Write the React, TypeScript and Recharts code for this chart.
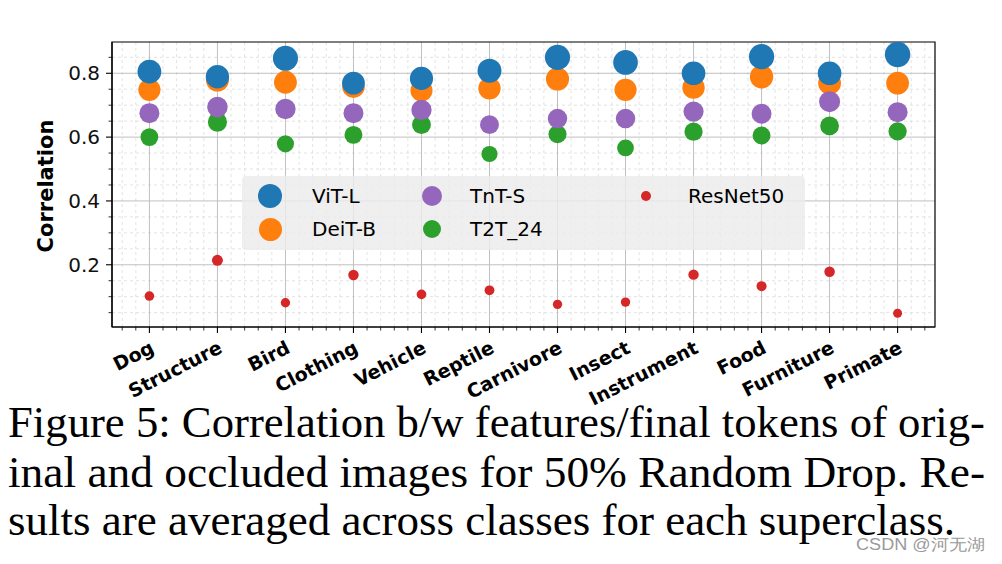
import React from 'react';
import { ScatterChart, Scatter, XAxis, YAxis, CartesianGrid, Legend, ReferenceArea } from 'recharts';

const categories = ['Dog', 'Structure', 'Bird', 'Clothing', 'Vehicle', 'Reptile', 'Carnivore', 'Insect', 'Instrument', 'Food', 'Furniture', 'Primate'];

const vitL = [0.805, 0.789, 0.847, 0.769, 0.784, 0.808, 0.85, 0.834, 0.8, 0.852, 0.8, 0.859];
const deitB = [0.748, 0.779, 0.772, 0.758, 0.746, 0.753, 0.782, 0.748, 0.755, 0.789, 0.769, 0.769];
const tntS = [0.675, 0.694, 0.688, 0.675, 0.685, 0.639, 0.658, 0.658, 0.68, 0.673, 0.711, 0.678];
const t2t24 = [0.6, 0.647, 0.579, 0.607, 0.639, 0.547, 0.609, 0.566, 0.617, 0.605, 0.635, 0.618];
const resnet50 = [0.102, 0.214, 0.081, 0.168, 0.107, 0.12, 0.076, 0.083, 0.169, 0.133, 0.178, 0.048];

const yMajorTicks = [0.2, 0.4, 0.6, 0.8];
const yTickLabels = ['0.2', '0.4', '0.6', '0.8'];
const yMinorTicks = [0.05, 0.1, 0.15, 0.25, 0.3, 0.35, 0.45, 0.5, 0.55, 0.65, 0.7, 0.75, 0.85];

const xMajorTicks = categories.map((_, i) => i);
// minor ticks every 0.2 between the categories
const xMinorTicks: number[] = [];
for (let k = -2; k <= 57; k++) {
  if (k % 5 !== 0) xMinorTicks.push(Math.round(k * 2) / 10);
}

const xDomain = [-0.55, 11.55];
const yDomain = [0.005, 0.898];

const captionLines = [
  'Figure 5: Correlation b/w features/final tokens of orig-',
  'inal and occluded images for 50% Random Drop. Re-',
  'sults are averaged across classes for each superclass.',
];

const toPoints = (vals: number[]) => vals.map((v, i) => ({ x: i, y: v }));

const COLORS = {
  vit: '#1f77b4',
  deit: '#ff7f0e',
  tnt: '#9467bd',
  t2t: '#2ca02c',
  res: '#d62728',
};

const bigR = (v: number) => 14.8 * v;
const smallR = (v: number) => 4.2 + 6 * v;

const dot = (color: string, rOf: (v: number) => number) => (props: any) => {
  if (props.cx == null || props.cy == null) return <g />;
  return <circle cx={props.cx} cy={props.cy} r={rOf(props.payload.y)} fill={color} />;
};

const legendItems = [
  { name: 'ViT-L', color: COLORS.vit, r: 12, col: 0, row: 0 },
  { name: 'DeiT-B', color: COLORS.deit, r: 11.5, col: 0, row: 1 },
  { name: 'TnT-S', color: COLORS.tnt, r: 10, col: 1, row: 0 },
  { name: 'T2T_24', color: COLORS.t2t, r: 9, col: 1, row: 1 },
  { name: 'ResNet50', color: COLORS.res, r: 5.2, col: 2, row: 0 },
];

const colMarkerX = [28, 190, 404];
const colTextX = [70, 228, 446];
const rowY = [20, 53];

const LegendBox = () => (
  <div
    style={{
      position: 'relative',
      width: 563,
      height: 74,
      background: 'rgba(236,236,236,0.82)',
      borderRadius: 4,
      fontFamily: 'DejaVu Sans',
      fontSize: 20,
      color: '#000',
    }}
  >
    {legendItems.map((it) => (
      <React.Fragment key={it.name}>
        <div
          style={{
            position: 'absolute',
            left: colMarkerX[it.col] - it.r,
            top: rowY[it.row] - it.r,
            width: it.r * 2,
            height: it.r * 2,
            borderRadius: '50%',
            background: it.color,
          }}
        />
        <div
          style={{
            position: 'absolute',
            left: colTextX[it.col],
            top: rowY[it.row] - 12,
            lineHeight: '24px',
            whiteSpace: 'nowrap',
          }}
        >
          {it.name}
        </div>
      </React.Fragment>
    ))}
  </div>
);

const XTick = (props: any) => {
  const { x, y, payload } = props;
  const v = payload.value as number;
  const idx = Math.round(v);
  const major = Math.abs(v - idx) < 1e-6;
  const label = major ? categories[idx] : null;
  const tx = x + 6;
  const ty = y + 25;
  return (
    <g>
      <line x1={x} y1={y} x2={x} y2={y + (major ? 6 : 3.5)} stroke="#000" strokeWidth={major ? 1.1 : 0.8} />
      {label && (
        <text
          x={tx}
          y={ty}
          textAnchor="end"
          transform={`rotate(-27, ${tx}, ${ty})`}
          fontFamily="DejaVu Sans"
          fontWeight="bold"
          fontSize={19}
          fill="#000"
        >
          {label}
        </text>
      )}
    </g>
  );
};

const YTick = (props: any) => {
  const { x, y, payload } = props;
  const v = payload.value as number;
  const mi = yMajorTicks.findIndex((t) => Math.abs(t - v) < 1e-6);
  const major = mi >= 0;
  return (
    <g>
      <line x1={x} y1={y} x2={x - (major ? 6 : 3.5)} y2={y} stroke="#000" strokeWidth={major ? 1.1 : 0.8} />
      {major && (
        <text x={x - 12} y={y + 7} textAnchor="end" fontFamily="DejaVu Sans" fontSize={20} fill="#111">
          {yTickLabels[mi]}
        </text>
      )}
    </g>
  );
};

const allXTicks = [...xMinorTicks, ...xMajorTicks].sort((a, b) => a - b);
const allYTicks = [...yMinorTicks, ...yMajorTicks].sort((a, b) => a - b);

export default function App() {
  return (
    <div style={{ position: 'absolute', left: 0, top: 0, width: 1002, height: 564, background: '#fff', overflow: 'hidden' }}>
      <ScatterChart width={1002} height={420} margin={{ top: 42, right: 67, left: 52, bottom: 53 }}>
        <CartesianGrid
          horizontalValues={yMinorTicks}
          verticalValues={xMinorTicks}
          stroke="#dcdcdc"
          strokeDasharray="3 3"
          strokeWidth={0.8}
        />
        <CartesianGrid horizontalValues={yMajorTicks} verticalValues={xMajorTicks} stroke="#c0c0c0" strokeWidth={1} />
        <XAxis
          type="number"
          dataKey="x"
          domain={xDomain}
          allowDataOverflow
          ticks={allXTicks}
          interval={0}
          tickSize={0}
          tickMargin={0}
          tickLine={false}
          tick={<XTick />}
          height={40}
          axisLine={{ stroke: '#000', strokeWidth: 1.2 }}
        />
        <YAxis
          type="number"
          dataKey="y"
          domain={yDomain}
          allowDataOverflow
          ticks={allYTicks}
          interval={0}
          tickSize={0}
          tickMargin={0}
          tickLine={false}
          tick={<YTick />}
          width={60}
          axisLine={{ stroke: '#000', strokeWidth: 1.2 }}
          label={{
            value: 'Correlation',
            angle: -90,
            position: 'insideLeft',
            offset: 0,
            content: () => (
              <text
                x={53}
                y={186}
                transform="rotate(-90, 53, 186)"
                textAnchor="middle"
                fontFamily="DejaVu Sans"
                fontWeight="bold"
                fontSize={21}
                fill="#000"
              >
                Correlation
              </text>
            ),
          }}
        />
        <Scatter name="DeiT-B" data={toPoints(deitB)} fill={COLORS.deit} shape={dot(COLORS.deit, bigR)} isAnimationActive={false} />
        <Scatter name="T2T_24" data={toPoints(t2t24)} fill={COLORS.t2t} shape={dot(COLORS.t2t, bigR)} isAnimationActive={false} />
        <Scatter name="TnT-S" data={toPoints(tntS)} fill={COLORS.tnt} shape={dot(COLORS.tnt, bigR)} isAnimationActive={false} />
        <Scatter name="ViT-L" data={toPoints(vitL)} fill={COLORS.vit} shape={dot(COLORS.vit, bigR)} isAnimationActive={false} />
        <Scatter name="ResNet50" data={toPoints(resnet50)} fill={COLORS.res} shape={dot(COLORS.res, smallR)} isAnimationActive={false} />
        <ReferenceArea
          x1={xDomain[0]}
          x2={xDomain[1]}
          y1={yDomain[0]}
          y2={yDomain[1]}
          fill="none"
          fillOpacity={0}
          stroke="#000"
          strokeWidth={1.2}
          ifOverflow="visible"
        />
        <Legend
          layout="horizontal"
          verticalAlign="middle"
          align="center"
          content={() => <LegendBox />}
          wrapperStyle={{ left: 242, top: 176, width: 563, height: 74 }}
        />
      </ScatterChart>
      <svg width={1002} height={564} style={{ position: 'absolute', left: 0, top: 0, pointerEvents: 'none' }}>
        <text x={8} y={437} fontFamily="Liberation Serif" fontSize={44} fill="#000" textLength={977} lengthAdjust="spacingAndGlyphs">
          {captionLines[0]}
        </text>
        <text x={8} y={487} fontFamily="Liberation Serif" fontSize={44} fill="#000" textLength={977} lengthAdjust="spacingAndGlyphs">
          {captionLines[1]}
        </text>
        <text x={8} y={535} fontFamily="Liberation Serif" fontSize={44} fill="#000" textLength={947} lengthAdjust="spacingAndGlyphs">
          {captionLines[2]}
        </text>
        <text x={856} y={550} fontFamily="Liberation Sans" fontSize={16} fill="#9a9a9a" textLength={129} lengthAdjust="spacingAndGlyphs">
          CSDN @河无湖
        </text>
      </svg>
    </div>
  );
}
